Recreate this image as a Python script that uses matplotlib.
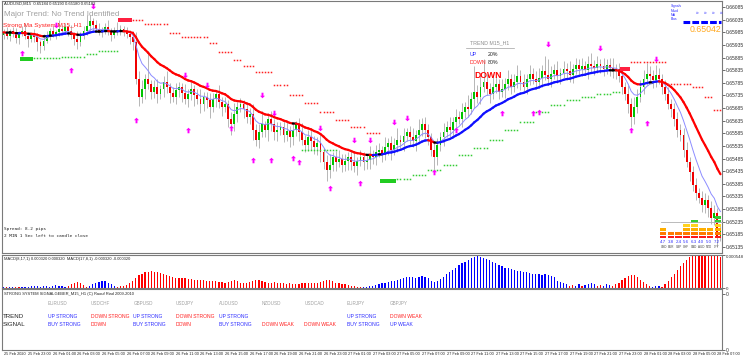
import numpy as np
import pandas as pd
import matplotlib
matplotlib.use("Agg")
import matplotlib.pyplot as plt
from matplotlib.collections import LineCollection
from matplotlib.lines import Line2D

plt.rcParams['font.family'] = ['Liberation Sans', 'DejaVu Sans']

W, H = 743, 358
BASE = 0.65      # prices below are in points (0.00001) above 0.65000
PT = 0.00001

# AUDUSD M15 candles
open0 = 975
closes = [
    985, 970, 990, 978, 962, 980, 992, 972, 958, 975,
    968, 945, 930, 952, 975, 990, 978, 985, 1000, 992,
    1005, 990, 975, 960, 948, 970, 990, 1010, 1030, 1015,
    1000, 985, 995, 1005, 990, 975, 985, 995, 1000, 985,
    980, 965, 945, 800, 730, 760, 800, 780, 750, 770,
    740, 760, 790, 770, 745, 730, 755, 770, 745, 720,
    740, 760, 735, 720, 700, 730, 715, 690, 720, 740,
    710, 690, 700, 640, 620, 660, 690, 700, 680, 650,
    660, 600, 560, 590, 620, 600, 640, 620, 590, 600,
    610, 580, 595, 570, 600, 620, 590, 560, 540, 570,
    555, 530, 545, 510, 470, 440, 460, 490, 470, 485,
    460, 475, 490, 470, 455, 475, 490, 470, 480, 500,
    490, 510, 520, 505, 530, 545, 520, 540, 560, 550,
    575, 590, 570, 555, 580, 600, 620, 600, 570, 520,
    490, 540, 570, 590, 610, 600, 630, 650, 640, 670,
    690, 680, 720, 750, 730, 770, 790, 760, 740, 770,
    780, 750, 760, 780, 800, 770, 790, 810, 790, 770,
    800, 820, 800, 790, 805, 830, 815, 800, 820, 835,
    810, 825, 840, 830, 815, 840, 855, 840, 850, 835,
    860, 850, 845, 860, 850, 840, 855, 845, 830, 840,
    810, 770, 740, 700, 650, 690, 730, 770, 800, 820,
    810, 795, 815, 800, 770, 740, 700, 680, 640, 600,
    580, 520, 470, 430, 380, 350, 330, 300, 320, 290,
    250, 270, 180, 205,
]
upper_wick = [
    12, 20, 8, 15, 25, 10, 18, 30, 12, 9, 22, 14, 10, 28, 16, 12, 20, 10, 35, 15,
    18, 10, 25, 12, 30, 15, 20, 45, 25, 12, 18, 22, 10, 15, 28, 12, 20, 30, 15, 10,
    20, 15, 25, 40, 30, 35, 20, 110, 15, 25, 30, 18, 22, 40, 15, 25, 30, 20, 15, 35,
    20, 30, 15, 25, 40, 20, 18, 30, 25, 15, 35, 20, 28, 15, 30, 45, 20, 25, 15, 30,
    25, 40, 20, 30, 55, 15, 25, 35, 20, 30, 18, 25, 40, 20, 30, 15, 25, 35, 20, 28,
    30, 20, 25, 40, 15, 30, 45, 20, 25, 35, 18, 30, 20, 25, 40, 15, 30, 20, 25, 35,
    20, 30, 25, 15, 40, 20, 30, 25, 45, 20, 30, 15, 25, 35, 20, 40, 25, 30, 20, 15,
    30, 25, 20, 35, 25, 40, 20, 30, 25, 35, 20, 45, 30, 100, 25, 40, 90, 30, 25, 50,
    30, 20, 40, 25, 35, 20, 30, 45, 25, 30, 20, 35, 25, 30, 40, 25, 60, 65, 30, 25,
    35, 20, 30, 25, 40, 20, 30, 25, 35, 20, 30, 45, 25, 30, 20, 35, 25, 30, 40, 20,
    25, 30, 20, 35, 25, 40, 30, 25, 35, 45, 30, 25, 40, 30, 20, 25, 30, 20, 25, 30,
    20, 25, 30, 20, 25, 30, 20, 25, 30, 20, 25, 30, 20, 15,
]
lower_wick = [
    15, 10, 20, 12, 18, 25, 10, 15, 30, 12, 20, 35, 25, 15, 10, 20, 12, 18, 15, 10,
    12, 20, 15, 25, 30, 18, 12, 15, 20, 25, 15, 12, 20, 18, 15, 25, 12, 10, 20, 15,
    18, 25, 30, 20, 35, 25, 40, 20, 30, 25, 35, 20, 30, 25, 40, 20, 30, 25, 35, 20,
    30, 25, 40, 20, 35, 25, 30, 45, 20, 30, 25, 35, 20, 30, 40, 25, 30, 20, 35, 25,
    30, 40, 25, 35, 20, 30, 45, 25, 30, 35, 20, 30, 25, 40, 30, 25, 35, 20, 30, 25,
    35, 25, 30, 40, 25, 45, 30, 25, 35, 20, 30, 25, 35, 30, 25, 35, 20, 30, 25, 35,
    25, 30, 20, 35, 25, 30, 40, 20, 30, 25, 35, 20, 30, 25, 40, 30, 25, 35, 30, 25,
    45, 30, 25, 35, 20, 30, 25, 35, 20, 30, 25, 30, 20, 35, 25, 30, 20, 25, 35, 20,
    25, 30, 20, 35, 25, 30, 20, 25, 35, 20, 30, 25, 20, 30, 25, 35, 20, 25, 30, 20,
    25, 30, 20, 35, 25, 30, 20, 25, 30, 20, 35, 25, 30, 20, 25, 30, 20, 35, 25, 30,
    20, 30, 25, 35, 40, 30, 25, 20, 30, 25, 20, 30, 25, 20, 30, 25, 20, 30, 25, 30,
    25, 30, 20, 35, 25, 30, 20, 25, 30, 35, 25, 30, 40, 20,
]

# MACD histogram per bar, points: positive = MACD(8,17,1) blue, negative = MACD(17,8,1) red
macd_hist = [
    1, -1, 2, 1, -2, -1, 1, 2, 1, 3,
    4, 3, 2, 4, 3, 2, 3, 5, 4, 3,
    1, -3, -6, -8, -10, -8, -5, -2, 3, 6,
    8, 10, 12, 11, 9, 6, 3, -1, -3, -4,
    -5, -8, -12, -17, -21, -24, -26, -27, -28, -27,
    -26, -25, -24, -22, -20, -18, -17, -17, -16, -16,
    -15, -15, -14, -14, -13, -13, -12, -12, -11, -11,
    -10, -10, -9, -10, -12, -13, -11, -9, -8, -9,
    -10, -12, -14, -13, -11, -10, -9, -9, -10, -9,
    -8, -8, -7, -8, -7, -6, -7, -8, -9, -8,
    -8, -9, -9, -10, -12, -14, -13, -11, -9, -8,
    -7, -6, -5, -4, -3, -2, -1, 1, 2, 3,
    4, 5, 6, 8, 9, 10, 11, 12, 14, 15,
    17, 18, 19, 18, 17, 18, 20, 19, 16, 12,
    10, 12, 15, 19, 23, 26, 30, 34, 38, 41,
    44, 47, 50, 52, 53, 52, 50, 48, 46, 44,
    41, 38, 36, 34, 33, 32, 30, 29, 28, 27,
    26, 25, 24, 24, 23, 22, 24, 22, 20, 18,
    12, 10, 8, 6, -3, -5, 4, 6, -4, 5,
    7, 8, 6, -3, -5, 4, 6, 5, -4, -6,
    -9, -13, -17, -20, -22, -21, -18, -14, -10, -6,
    -3, 2, 4, 3, -2, -6, -12, -18, -24, -30,
    -36, -42, -47, -51, -53, -54, -54, -54, -54, -54,
    -54, -53, -54, -52,
]

# stepped trailing-stop dots: start bar, end bar, level (points), colour
dot_start = [10, 19, 27, 31, 42, 46, 54, 58, 67, 70, 75, 78, 82, 88, 93, 98, 103, 108, 113, 118,
             97, 128, 133, 138, 143, 148, 153, 158, 163, 168, 173, 178, 183, 188, 193, 198,
             204, 213, 216, 224, 228, 231]
dot_end = [18, 26, 30, 37, 45, 53, 57, 66, 69, 74, 77, 81, 87, 92, 97, 102, 107, 112, 117, 122,
           108, 132, 137, 142, 147, 152, 157, 162, 167, 172, 177, 182, 187, 192, 197, 200,
           212, 215, 223, 227, 230, 233]
dot_level = [883, 887, 899, 911, 1034, 1018, 982, 966, 942, 907, 875, 851, 828, 776, 737, 705, 669, 638, 610, 586,
             520, 404, 420, 440, 460, 499, 527, 558, 598, 630, 669, 697, 717, 729, 740, 748,
             867, 867, 780, 768, 729, 677]
dot_color = ['g'] * 4 + ['r'] * 16 + ['g'] * 16 + ['r'] * 6
big_start = [6, 38, 123, 201]
big_end = [9, 41, 127, 203]
big_level = [879, 1034, 396, 840]
big_color = ['g', 'r', 'g', 'r']

# signal arrows
up_bars = [6, 22, 43, 60, 74, 81, 87, 94, 96, 106, 116, 140, 147, 162, 172, 174, 204, 209]
up_levels = [903, 836, 638, 598, 606, 479, 479, 487, 471, 368, 388, 432, 598, 665, 665, 669, 598, 626]
down_bars = [17, 29, 59, 66, 84, 88, 103, 114, 119, 127, 131, 177, 194, 212]
down_levels = [1014, 1089, 816, 776, 737, 665, 606, 558, 558, 630, 646, 938, 923, 880]

price_ticks = [0.66085, 0.66035, 0.65985, 0.65935, 0.65885, 0.65835, 0.65785, 0.65735, 0.65685, 0.65635,
               0.65585, 0.65535, 0.65485, 0.65435, 0.65385, 0.65335, 0.65285, 0.65235, 0.65185, 0.65135]
time_labels = ["25 Feb 2020", "25 Feb 23:00", "26 Feb 01:00", "26 Feb 03:00", "26 Feb 05:00",
               "26 Feb 07:00", "26 Feb 09:00", "26 Feb 11:00", "26 Feb 13:00", "26 Feb 15:00",
               "26 Feb 17:00", "26 Feb 19:00", "26 Feb 21:00", "26 Feb 23:00", "27 Feb 01:00",
               "27 Feb 03:00", "27 Feb 05:00", "27 Feb 07:00", "27 Feb 09:00", "27 Feb 11:00",
               "27 Feb 13:00", "27 Feb 15:00", "27 Feb 17:00", "27 Feb 19:00", "27 Feb 21:00",
               "27 Feb 23:00", "28 Feb 01:00", "28 Feb 03:00", "28 Feb 05:00", "28 Feb 07:00"]

# currency strength meter
currencies = ["USD", "EUR", "GBP", "CHF", "CAD", "AUD", "NZD", "JPY"]
strength = [4.7, 3.8, 2.4, 5.6, 6.3, 4.0, 5.0, 7.2]
strength_bars = [3, 2, 2, 4, 5, 3, 3, 6]

# signal table
pairs = ["EURUSD", "USDCHF", "GBPUSD", "USDJPY", "AUDUSD", "NZDUSD", "USDCAD", "EURJPY", "GBPJPY"]
trend_row = ["UP STRONG", "DOWN STRONG", "UP STRONG", "DOWN STRONG", "UP STRONG", "", "", "UP STRONG", "DOWN WEAK"]
signal_row = ["BUY STRONG", "DOWN", "BUY STRONG", "DOWN", "BUY STRONG", "DOWN WEAK", "DOWN WEAK", "BUY STRONG", "UP WEAK"]

BLUE = '#2F2FFF'
RED = '#FF2020'


def fx(x):
    return x / W


def fy(y):
    return 1 - y / H


n = len(closes)
x = np.arange(n)
c = BASE + np.array(closes) * PT
o = np.r_[BASE + open0 * PT, c[:-1]]
hi = np.maximum(o, c) + np.array(upper_wick) * PT
lo = np.minimum(o, c) - np.array(lower_wick) * PT

cs = pd.Series(c)
ma_slow = cs.ewm(span=21, adjust=False).mean().values
ma_fast = cs.ewm(span=8, adjust=False).mean().values
macd = np.array(macd_hist) * PT

fig = plt.figure(figsize=(W / 100, H / 100), dpi=100)
ax1 = fig.add_axes([fx(2), fy(253), 720 / W, 252 / H])
ax2 = fig.add_axes([fx(2), fy(288), 720 / W, 33 / H])
ax3 = fig.add_axes([fx(2), fy(350), 720 / W, 61 / H])

for ax in (ax1, ax2, ax3):
    ax.set_xlim(-0.5, n - 0.5)
    for s in ax.spines.values():
        s.set_color('#7A7A7A')
        s.set_linewidth(0.8)
    ax.yaxis.tick_right()
    ax.tick_params(axis='y', length=2, width=0.5, labelsize=3.6, pad=1, colors='#333333')
    ax.tick_params(axis='x', length=0)

# candles
ax1.vlines(x, lo, hi, color='#ABABAB', lw=0.6, zorder=1)
bull = c >= o
body = np.maximum(np.abs(c - o), 1.5 * PT)
ax1.bar(x[bull], body[bull], bottom=o[bull], width=0.62, color='#00C400', lw=0, zorder=2)
ax1.bar(x[~bull], body[~bull], bottom=c[~bull], width=0.62, color='#F00000', lw=0, zorder=2)

# moving averages
ax1.plot(x, ma_fast, color='#8C8CFF', lw=0.7, zorder=3)
slope = np.diff(ma_slow) / PT
seg_cols = np.where(slope > 0.8, '#1010FF', np.where(slope < -0.8, '#FF0000', '#000000'))
pts = np.column_stack([x, ma_slow]).reshape(-1, 1, 2)
segs = np.concatenate([pts[:-1], pts[1:]], axis=1)
ax1.add_collection(LineCollection(segs, colors=seg_cols, linewidths=1.6, capstyle='round', zorder=4))

# trailing dots
for s0, s1, lv, cl in zip(dot_start, dot_end, dot_level, dot_color):
    xs = np.arange(s0, s1 + 1)
    ax1.plot(xs, np.full(len(xs), BASE + lv * PT), ls='none', marker='s', ms=1.1,
             color='#FF2020' if cl == 'r' else '#33CC33', mew=0, zorder=5)
for s0, s1, lv, cl in zip(big_start, big_end, big_level, big_color):
    xs = np.arange(s0, s1 + 1)
    ax1.plot(xs, np.full(len(xs), BASE + lv * PT), ls='none', marker='s', ms=2.6,
             color='#FF2040' if cl == 'r' else '#22CC22', mew=0, zorder=5)

# arrows
arrow_up = [(0, 1), (-0.9, 0.1), (-0.35, 0.1), (-0.35, -1), (0.35, -1), (0.35, 0.1), (0.9, 0.1), (0, 1)]
arrow_dn = [(a, -b) for a, b in arrow_up]
ax1.scatter(up_bars, BASE + np.array(up_levels) * PT, marker=arrow_up, s=16, color='#FF00FF', lw=0, zorder=6)
ax1.scatter(down_bars, BASE + np.array(down_levels) * PT, marker=arrow_dn, s=16, color='#FF00FF', lw=0, zorder=6)

ax1.set_ylim(0.65111, 0.66109)
ax1.set_yticks(price_ticks)
ax1.set_yticklabels([f"{v:.5f}" for v in price_ticks])
ax1.set_xticks([])

# MACD panel
ax2.bar(x, np.clip(macd, 0, None), width=0.38, color='#0000FF', lw=0)
ax2.bar(x, np.clip(-macd, 0, None), width=0.38, color='#FF0000', lw=0)
ax2.set_ylim(0, 0.000548)
ax2.set_yticks([0, 0.000548])
ax2.set_yticklabels(['0', '0.000548'])
ax2.tick_params(axis='y', labelsize=3.2)
ax2.get_yticklabels()[1].set_va('top')
ax2.set_xticks([])

# signal panel
ax3.set_ylim(0, 1)
ax3.set_yticks([0, 0.92])
ax3.set_yticklabels(['0', '0'])
ax3.set_xticks(np.arange(0, n, 8))
ax3.set_xticklabels(time_labels, fontsize=2.8, ha='left')
ax3.tick_params(axis='x', pad=1.5, colors='#222222')

# strength meter
axm = fig.add_axes([fx(659), fy(239), 63 / W, 24 / H])
axm.set_xlim(-0.5, 7.5)
axm.set_ylim(0, 6.2)
axm.axis('off')
level_cols = ['#FF1A1A', '#FF7A00', '#FFAE00', '#FFD21F', '#33CC33', '#33CC33', '#33CC33']
for i, u in enumerate(strength_bars):
    for k in range(u):
        axm.bar(i, 0.7, bottom=k + 0.15, width=0.82, color=level_cols[k], lw=0)
fig.add_artist(Line2D([fx(661), fx(722)], [fy(222), fy(222)], color='#B0B0B0', lw=0.6))
for i, (cur, v) in enumerate(zip(currencies, strength)):
    cx = fx(663.5 + i * 7.6)
    fig.text(cx, fy(242), f"{v:.1f}", fontsize=3.2, color=BLUE, ha='center', va='center')
    fig.text(cx, fy(247), cur, fontsize=2.2, color='#444444', ha='center', va='center')

# chart texts
fig.text(fx(4), fy(3.5), "AUDUSD,M15  0.65184 0.65190 0.65180 0.65182", fontsize=3, color='#222222', va='center')
fig.text(fx(4), fy(15), "Major Trend: No Trend Identified", fontsize=5.8, color='#A0A0A0', va='center')
fig.text(fx(3), fy(25), "Strong Ma System M15_H1", fontsize=4.6, color='#FF2020', va='center')

fig.text(fx(470), fy(43), "TREND M15_H1", fontsize=3.8, color='#909090', va='center')
fig.add_artist(Line2D([fx(466), fx(514)], [fy(48), fy(48)], color='#A0A0A0', lw=0.5))
fig.text(fx(470), fy(54), "UP", fontsize=3.8, color=BLUE, va='center')
fig.text(fx(488), fy(54), "20%", fontsize=3.8, color='#222222', va='center')
fig.text(fx(470), fy(62), "DOWN", fontsize=3.8, color=RED, va='center')
fig.text(fx(488), fy(62), "80%", fontsize=3.8, color='#222222', va='center')
fig.text(fx(474), fy(75), "DOWN", fontsize=6.2, color='#FF0000', fontweight='bold', va='center')

for j, t in enumerate(["Signals", "Macd", "MA", "Bias"]):
    fig.text(fx(671), fy(6 + j * 4.5), t, fontsize=2.4, color=BLUE, va='center')
for k in range(4):
    fig.text(fx(697 + k * 8), fy(12), "»", fontsize=3.5, color=BLUE, ha='center', va='center')
fig.add_artist(Line2D([fx(683), fx(721)], [fy(22), fy(22)], color='#0000FF', lw=2.2,
                      dashes=(2.2, 0.7)))
fig.text(fx(721), fy(30), "0.65042", fontsize=6.3, color='#FFA820', ha='right', va='center')

fig.text(fx(4), fy(229), "Spread: 8.2 pips", fontsize=3.2, family='DejaVu Sans Mono', color='#222222', va='center')
fig.text(fx(4), fy(236), "2 MIN 1 Sec left to candle close", fontsize=3.2, family='DejaVu Sans Mono',
         color='#222222', va='center')

fig.text(fx(4), fy(259), "MACD(8,17,1) 0.000320 0.000320  MACD(17,8,1) -0.000320 -0.000320",
         fontsize=2.9, color='#222222', va='center')
fig.text(fx(4), fy(294), "STRONG SYSTEM SIGNALGEBER_M15_H1 (C) Raouf Riad 2009-2010",
         fontsize=2.9, color='#222222', va='center')

fig.text(fx(3), fy(316), "TREND", fontsize=4.4, color='#222222', va='center')
fig.text(fx(3), fy(324.5), "SIGNAL", fontsize=4.4, color='#222222', va='center')
for i, p in enumerate(pairs):
    px0 = fx(48 + i * 42.7)
    fig.text(px0, fy(303.5), p, fontsize=3.3, color='#A0A0A0', va='center')
    tr = trend_row[i]
    if tr:
        fig.text(px0, fy(316), tr, fontsize=3.6, color=BLUE if tr.startswith("UP") else RED, va='center')
    sg = signal_row[i]
    fig.text(px0, fy(324), sg, fontsize=3.6,
             color=BLUE if sg.startswith(("UP", "BUY")) else RED, va='center')

fig.savefig("out.png", dpi=100)
